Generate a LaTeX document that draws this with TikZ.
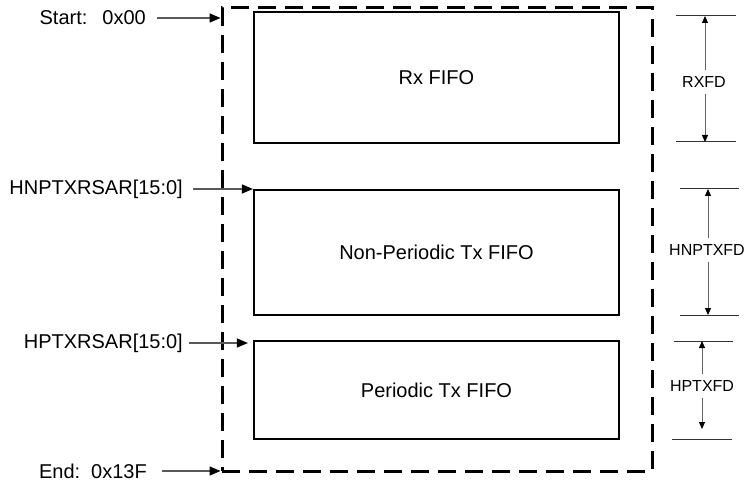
\documentclass[tikz,border=0pt]{standalone}
\usepackage{fontspec}
\setmainfont{Liberation Sans}
\usetikzlibrary{arrows.meta}
\tikzset{
  fifo/.style={draw=black, line width=2.2pt, minimum width=365pt, inner sep=0pt, font=\fontsize{20}{24}\selectfont},
  memmap/.style={draw=black, line width=3pt, dash pattern=on 18pt off 9pt, minimum width=430pt, minimum height=463pt, inner sep=0pt},
  lbl/.style={inner sep=0pt, anchor=east, font=\fontsize{20}{24}\selectfont},
  dimlbl/.style={inner sep=0pt, font=\fontsize{16}{19}\selectfont},
  ptr/.style={draw=black!65, line width=1.3pt, -{Triangle[length=11pt,width=9pt,color=black]}},
  dimarr/.style={draw=black!60, line width=1pt, -{Triangle[length=7pt,width=6pt,color=black]}},
  dimline/.style={draw=black!80, line width=1pt}
}
\begin{document}
\begin{tikzpicture}[x=1pt,y=-1pt]
\useasboundingbox (0,0) rectangle (744,486);
% memory map outline
\node[memmap] (mem) at (437,239.5) {};
% FIFO regions
\node[fifo, minimum height=131pt] (rx) at (436.5,77.5) {Rx FIFO};
\node[fifo, minimum height=125pt] (np) at (436.5,252.5) {Non-Periodic Tx FIFO};
\node[fifo, minimum height=98pt] (pt) at (436.5,390) {Periodic Tx FIFO};
% left labels
\node[lbl] (start) at (146,18) {Start:\hspace{0.75em}0x00};
\node[lbl] (hnp) at (183,189) {HNPTXRSAR[15:0]};
\node[lbl] (hpt) at (183,343) {HPTXRSAR[15:0]};
\node[lbl] (end) at (147,471) {End:\hspace{0.55em}0x13F};
\draw[ptr] ([xshift=11pt]start.east) -- (start -| mem.west);
\draw[ptr] ([xshift=10pt]hnp.east) -- (hnp -| np.west);
\draw[ptr] ([xshift=6pt]hpt.east) -- ([xshift=-5pt]hpt -| pt.west);
\draw[ptr] ([xshift=15pt]end.east) -- (end -| mem.west);
% right dimension marks
\coordinate (rxt1) at (676,16); \coordinate (rxt2) at (736,16);
\coordinate (rxb1) at (676,142); \coordinate (rxb2) at (736,142);
\draw[dimline] (rxt1) -- (rxt2);
\draw[dimline] (rxb1) -- (rxb2);
\node[dimlbl] (rxfd) at (704,82) {RXFD};
\coordinate (rxx) at (705,82);
\draw[dimarr] ([yshift=6pt]rxx |- rxfd.north) -- (rxx |- rxt1);
\draw[dimarr] ([yshift=-6pt]rxx |- rxfd.south) -- (rxx |- rxb1);

\coordinate (npt1) at (680,189); \coordinate (npt2) at (739,189);
\coordinate (npb1) at (680,315); \coordinate (npb2) at (739,315);
\draw[dimline] (npt1) -- (npt2);
\draw[dimline] (npb1) -- (npb2);
\node[dimlbl] (npfd) at (707,250) {HNPTXFD};
\coordinate (npx) at (708,250);
\draw[dimarr] ([yshift=6pt]npx |- npfd.north) -- (npx |- npt1);
\draw[dimarr] ([yshift=-6pt]npx |- npfd.south) -- (npx |- npb1);

\coordinate (ptt1) at (674,341); \coordinate (ptt2) at (733,341);
\coordinate (ptb1) at (672,439); \coordinate (ptb2) at (732,439);
\draw[dimline] (ptt1) -- (ptt2);
\draw[dimline] (ptb1) -- (ptb2);
\node[dimlbl] (ptfd) at (702,386) {HPTXFD};
\coordinate (ptend) at (702,429);
\draw[dimarr] ([yshift=6pt]ptfd.north) -- (ptfd.north |- ptt1);
\draw[dimarr] ([yshift=-6pt]ptfd.south) -- (ptend);
\end{tikzpicture}
\end{document}
